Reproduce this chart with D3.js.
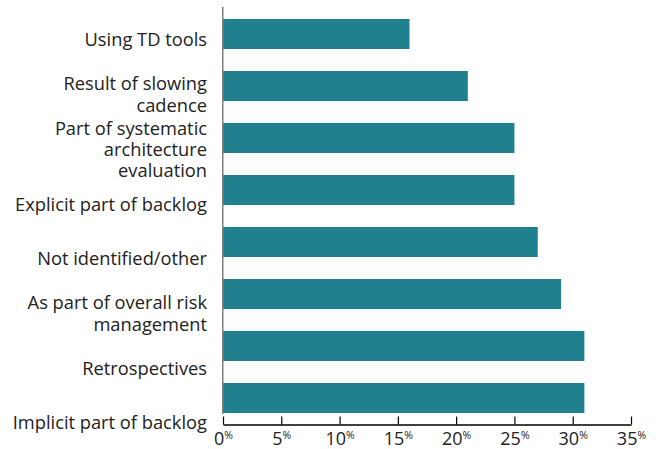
<!DOCTYPE html>
<html><head><meta charset="utf-8">
<script src="https://cdn.jsdelivr.net/npm/d3@7"></script>
<style>body{margin:0;background:#fff} text{font-family:"Open Sans",sans-serif}</style>
</head><body><svg id="c" width="656" height="449"></svg>
<script>
const categories = ["Using TD tools","Result of slowing\ncadence","Part of systematic\narchitecture\nevaluation","Explicit part of backlog","Not identified/other","As part of overall risk\nmanagement","Retrospectives","Implicit part of backlog"];
const values = [16,21,25,25,27,29,31,31];
const xTicks = [0,5,10,15,20,25,30,35];

const svg = d3.select("#c");
const x = d3.scaleLinear().domain([0,35]).range([223,631]);
const y = d3.scaleBand().domain(categories).range([7,413]).paddingInner(22/52).paddingOuter(0.1154).align(1);
const yl = d3.scalePoint().domain(categories).range([40,423]);

svg.selectAll("rect.bar").data(categories).join("rect").attr("class","bar")
  .attr("x", x(0)).attr("y", d=>y(d))
  .attr("width", (d,i)=>x(values[i])-x(0)).attr("height", y.bandwidth())
  .attr("fill","#21808d");

// y axis line
svg.append("line").attr("x1",222.75).attr("x2",222.75).attr("y1",7).attr("y2",414)
  .attr("stroke","#7f7f7f").attr("stroke-width",1.5);

// category labels
const fs = 18.3, lh = 21.3;
const lab = svg.append("g").attr("font-size",fs).attr("fill","#222").attr("text-anchor","end");
categories.forEach(c=>{
  const lines = c.split("\n");
  const t = lab.append("text").attr("x",207).attr("y",yl(c));
  lines.forEach((ln,k)=>{
    t.append("tspan").attr("x",207)
      .attr("dy", k===0 ? (-(lines.length-1)/2*lh + 0.35*fs) : lh)
      .text(ln);
  });
});

// x axis
const xa = svg.append("g").attr("transform","translate(0,424.5)")
  .call(d3.axisBottom(x).tickValues(xTicks).tickSize(-8).tickSizeOuter(0));
xa.select(".domain").attr("stroke","#000").attr("stroke-width",1.5);
xa.selectAll(".tick line").attr("stroke","#000").attr("stroke-width",1.2);
xa.selectAll(".tick text").each(function(d){
  const t = d3.select(this);
  t.text(null).attr("y",20.5).attr("dy",0).attr("fill","#222").attr("font-size",18).attr("font-family","'Open Sans',sans-serif");
  t.append("tspan").text(d);
  t.append("tspan").attr("font-size",10.5).attr("dy",-6.5).text("%");
});
</script></body></html>
